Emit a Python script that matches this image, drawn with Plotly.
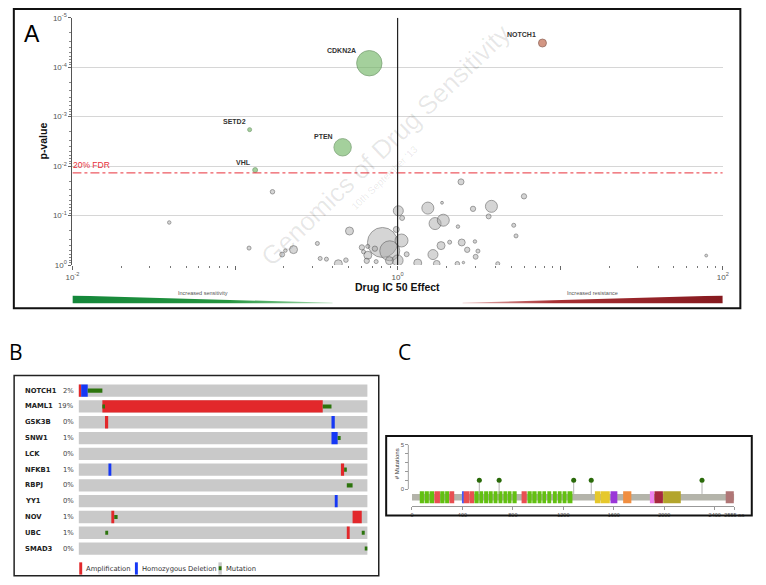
import math
import plotly.graph_objects as go

# ---------------- DATA ----------------
# Panel A: drug IC50 effect vs p-value (bubble size = number of mutant lines)
gray_effect = [0.0394, 0.170, 0.506, 0.122, 0.321, 0.229, 0.204, 0.195, 0.334, 0.365,
               0.432, 0.481, 0.603, 0.617, 0.655, 0.725, 0.646, 0.656, 0.738, 0.807,
               0.895, 1.057, 1.01, 1.066, 0.982, 1.0, 0.891, 1.137, 1.33, 2.455,
               5.99, 1.535, 1.876, 2.91, 3.776, 3.63, 1.70, 1.91, 2.35, 5.18,
               5.35, 1.85, 2.09, 2.48, 2.99, 2.68, 3.12, 3.02, 1.65, 1.74,
               2.33, 2.54, 4.13, 79.1]
gray_pvalue = [0.138, 0.033, 0.205, 0.454, 0.366, 0.488, 0.511, 0.614, 0.736, 0.760,
               0.942, 0.796, 0.440, 0.540, 0.420, 0.467, 0.822, 0.634, 0.853, 0.350,
               0.515, 0.319, 0.080, 0.112, 0.191, 0.807, 0.815, 0.605, 0.912, 0.0208,
               0.0408, 0.0706, 0.055, 0.073, 0.065, 0.104, 0.145, 0.124, 0.167, 0.157,
               0.258, 0.405, 0.345, 0.350, 0.334, 0.492, 0.522, 0.681, 0.614, 0.942,
               0.942, 0.891, 0.942, 0.643]
gray_nmut = [3, 5, 16, 4, 4, 16, 3, 6, 4, 4,
             16, 5, 7, 4, 4, 7, 7, 16, 4, 225,
             100, 42, 25, 6, 9, 30, 16, 6, 16, 9,
             7, 36, 2, 7, 36, 6, 36, 36, 3, 4,
             4, 16, 4, 12, 3, 7, 4, 6, 25, 11,
             5, 1.5, 4, 2]

hit_genes = ["CDKN2A", "SETD2", "PTEN", "VHL", "NOTCH1"]
hit_effect = [0.670, 0.123, 0.459, 0.133, 7.78]
hit_pvalue = [8.3e-5, 1.83e-3, 4.16e-3, 0.0120, 3.24e-5]
hit_nmut = [161, 4, 76, 6, 16]
hit_direction = ["sensitive", "sensitive", "sensitive", "sensitive", "resistant"]

fdr_pvalue = 0.0137
x_tick_labels = ["10<sup>-2</sup>", "", "10<sup>0</sup>", "", "10<sup>2</sup>"]
y_tick_labels = ["10<sup>-5</sup>", "10<sup>-4</sup>", "10<sup>-3</sup>",
                 "10<sup>-2</sup>", "10<sup>-1</sup>", "10<sup>0</sup>"]

# Panel B: oncoprint (sample positions, 300 samples)
onco_genes = ["NOTCH1", "MAML1", "GSK3B", "SNW1", "LCK", "NFKB1",
              "RBPJ", "YY1", "NOV", "UBC", "SMAD3"]
onco_pct = ["2%", "19%", "0%", "1%", "0%", "1%", "0%", "0%", "1%", "1%", "0%"]
n_samples = 300
amp_gene = ["NOTCH1", "MAML1", "GSK3B", "NFKB1", "NOV", "NOV", "UBC"]
amp_start = [0, 24.7, 27.4, 272.3, 34, 284.4, 278.4]
amp_end = [2.7, 253.4, 30.7, 275.6, 37, 293.9, 281.4]
del_gene = ["NOTCH1", "GSK3B", "SNW1", "NFKB1", "YY1"]
del_start = [2.7, 262.5, 262.5, 31, 265.9]
del_end = [9.5, 265.9, 268.9, 34, 268.9]
mut_gene = ["NOTCH1", "MAML1", "MAML1", "SNW1", "NFKB1", "RBPJ", "NOV", "UBC", "UBC", "SMAD3"]
mut_start = [9.5, 24.7, 253.4, 268.9, 275.6, 278.4, 37, 27.7, 293.9, 297]
mut_end = [24.7, 27.4, 262.5, 272, 278.4, 284.4, 40.5, 30.7, 297, 300]

# Panel C: NOTCH1 protein (2555 aa), domains and mutations
protein_length = 2555
domain_type = ["EGF", "EGF", "EGF", "EGF_CA", "EGF", "EGF", "EGF_CA", "SP",
               "EGF_CA", "EGF_CA",
               "EGF", "EGF", "EGF", "EGF", "EGF", "EGF", "EGF", "EGF", "EGF",
               "EGF_CA",
               "EGF", "EGF", "EGF", "EGF", "EGF", "EGF", "EGF", "EGF", "EGF",
               "LNR", "LNR", "HD", "RAM", "NLS", "ANK", "ANK2", "TAD"]
domain_start = [62, 100, 139, 178, 224, 263, 297, 397,
                410, 456,
                495, 534, 572, 608, 647, 686, 725, 758, 797,
                869,
                916, 954, 996, 1034, 1073, 1117, 1156, 1194, 1233,
                1450, 1496, 1574, 1674, 1886, 1922, 1991, 2487]
domain_end = [95, 134, 175, 222, 258, 294, 335, 407,
              454, 492,
              529, 565, 603, 640, 678, 717, 753, 789, 830,
              910,
              949, 988, 1027, 1063, 1104, 1148, 1186, 1225, 1272,
              1494, 1568, 1628, 1739, 1919, 1989, 2131, 2551]
mutation_pos = [534, 691, 1282, 1421, 2299]
mutation_count = [1, 1, 1, 1, 1]
c_tick_vals = [0, 400, 800, 1200, 1600, 2000, 2400, 2555]
c_tick_text = ["0", "400", "800", "1200", "1600", "2000", "2400", "2555 aa"]

# ---------------- STYLE / LAYOUT HELPERS ----------------
W, H = 766, 585
def px(x):
    return x / W
def py(y):
    return 1 - y / H

FONT = "Liberation Sans, Arial, sans-serif"
VFONT = "DejaVu Sans, Verdana, sans-serif"
domain_colors = {"EGF": "#62c011", "EGF_CA": "#e84f52", "SP": "#3d5cff",
                 "LNR": "#e6c82c", "HD": "#9a37d8", "RAM": "#f08e40",
                 "NLS": "#ee84ee", "ANK": "#a6283f", "ANK2": "#b3a52d",
                 "TAD": "#b07676"}
dir_fill = {"sensitive": "rgba(112,182,100,0.9)", "resistant": "rgba(190,98,70,0.95)"}
dir_line = {"sensitive": "#4a7d43", "resistant": "#6a3020"}
label_shift = {"CDKN2A": (-11, 13), "SETD2": (-1.5, 8), "PTEN": (-8, 11),
               "VHL": (-2, 8), "NOTCH1": (-4, 9)}

fig = go.Figure()

# ---- Panel A ----
order = sorted(range(len(gray_nmut)), key=lambda i: -gray_nmut[i])
fig.add_trace(go.Scatter(
    x=[gray_effect[i] for i in order], y=[gray_pvalue[i] for i in order],
    mode="markers", xaxis="x", yaxis="y", hoverinfo="skip",
    marker=dict(size=[gray_nmut[i] for i in order], sizemode="area", sizeref=0.5,
                color="rgba(165,165,165,0.65)", line=dict(color="#555555", width=0.8))))
fig.add_trace(go.Scatter(
    x=hit_effect, y=hit_pvalue, mode="markers", xaxis="x", yaxis="y", hoverinfo="skip",
    marker=dict(size=hit_nmut, sizemode="area", sizeref=0.5,
                color=[dir_fill[d] for d in hit_direction],
                line=dict(color=[dir_line[d] for d in hit_direction], width=0.8))))
fig.add_trace(go.Scatter(x=[0.01, 100], y=[fdr_pvalue, fdr_pvalue], mode="lines",
                         xaxis="x", yaxis="y", hoverinfo="skip",
                         line=dict(color="#e8303a", width=1, dash="dashdot")))
fig.add_trace(go.Scatter(x=[1, 1], y=[1, 1e-5], mode="lines", xaxis="x", yaxis="y",
                         hoverinfo="skip", line=dict(color="#222222", width=1.2)))

# direction wedges (decorative) on a helper axis spanning the same log-effect range
fig.add_trace(go.Scatter(x=[-2, -0.4, -0.4, -2, -2], y=[1, 0.1, 0, 0, 1], mode="lines",
                         fill="toself", xaxis="x4", yaxis="y4", hoverinfo="skip",
                         line=dict(width=0),
                         fillgradient=dict(type="horizontal",
                                           colorscale=[[0, "#14873a"], [0.6, "#25953f"],
                                                       [1, "#a8dcb0"]])))
fig.add_trace(go.Scatter(x=[0.4, 2, 2, 0.4, 0.4], y=[0, 0, 1, 0.1, 0], mode="lines",
                         fill="toself", xaxis="x4", yaxis="y4", hoverinfo="skip",
                         line=dict(width=0),
                         fillgradient=dict(type="horizontal",
                                           colorscale=[[0, "#e7b9b9"], [0.35, "#a83034"],
                                                       [1, "#861a1f"]])))

# ---- Panel B ----
yidx = {g: i for i, g in enumerate(onco_genes)}
fig.add_trace(go.Bar(y=list(range(len(onco_genes))), x=[n_samples] * len(onco_genes),
                     base=[0] * len(onco_genes), orientation="h", width=0.78,
                     marker=dict(color="#c9c9c9", line=dict(width=0)),
                     xaxis="x2", yaxis="y2", hoverinfo="skip"))
fig.add_trace(go.Bar(y=[yidx[g] for g in amp_gene],
                     x=[e - s for s, e in zip(amp_start, amp_end)], base=amp_start,
                     orientation="h", width=0.78, marker=dict(color="#e2282b", line=dict(width=0)),
                     xaxis="x2", yaxis="y2", hoverinfo="skip"))
fig.add_trace(go.Bar(y=[yidx[g] for g in del_gene],
                     x=[e - s for s, e in zip(del_start, del_end)], base=del_start,
                     orientation="h", width=0.78, marker=dict(color="#1638f5", line=dict(width=0)),
                     xaxis="x2", yaxis="y2", hoverinfo="skip"))
fig.add_trace(go.Bar(y=[yidx[g] for g in mut_gene],
                     x=[e - s for s, e in zip(mut_start, mut_end)], base=mut_start,
                     orientation="h", width=0.26, marker=dict(color="#2c740d", line=dict(width=0)),
                     xaxis="x2", yaxis="y2", hoverinfo="skip"))

# ---- Panel C ----
fig.add_trace(go.Bar(y=[-0.93], x=[protein_length], base=[0], orientation="h", width=0.74,
                     marker=dict(color="#b4b4aa", line=dict(width=0)),
                     xaxis="x3", yaxis="y3", hoverinfo="skip"))
fig.add_trace(go.Bar(y=[-0.93] * len(domain_start),
                     x=[e - s for s, e in zip(domain_start, domain_end)], base=domain_start,
                     orientation="h", width=1.34,
                     marker=dict(color=[domain_colors[t] for t in domain_type], line=dict(width=0)),
                     xaxis="x3", yaxis="y3", hoverinfo="skip"))
stem_x, stem_y = [], []
for p, c in zip(mutation_pos, mutation_count):
    stem_x += [p, p, None]
    stem_y += [-0.56, c, None]
fig.add_trace(go.Scatter(x=stem_x, y=stem_y, mode="lines", xaxis="x3", yaxis="y3",
                         line=dict(color="#a0a0a0", width=0.8), hoverinfo="skip"))
fig.add_trace(go.Scatter(x=mutation_pos, y=mutation_count, mode="markers", xaxis="x3",
                         yaxis="y3", marker=dict(size=5, color="#2a6a0a"), hoverinfo="skip"))

# ---------------- ANNOTATIONS ----------------
def note(text, x, y, size, color="#000", family=FONT, angle=0, xa="center", ya="middle",
         xref="paper", yref="paper", **kw):
    d = dict(text=text, x=x, y=y, xref=xref, yref=yref, xanchor=xa, yanchor=ya,
             textangle=angle, showarrow=False,
             font=dict(family=family, size=size, color=color))
    d.update(kw)
    return d

ann = []
ann.append(note("Genomics of Drug Sensitivity", px(388), py(142), 26,
                "rgba(0,0,0,0.095)", angle=-44))
ann.append(note("10th September '13", px(387), py(175), 10, "rgba(0,0,0,0.095)", angle=-44))
for g, xv, pv in zip(hit_genes, hit_effect, hit_pvalue):
    dx, dy = label_shift[g]
    ann.append(note("<b>" + g + "</b>", math.log10(xv), math.log10(pv), 7, "#333333",
                    xa="right", ya="middle", xref="x", yref="y", xshift=dx, yshift=dy))
ann.append(note("20% FDR", -2, math.log10(fdr_pvalue), 8.5, "#e8303a", xa="left",
                ya="bottom", xref="x", yref="y", yshift=1, xshift=-1))
ann.append(note("<b>p-value</b>", px(37), py(138), 10.5, "#111", angle=-90))
ann.append(note("<b>Drug IC 50 Effect</b>", px(400), py(286), 10.5, "#111"))
ann.append(note("Increased sensitivity", px(201), py(292.5), 5.5, "#555"))
ann.append(note("Increased resistance", px(600), py(292.5), 5.5, "#555"))
ann.append(note("A", px(26), py(29), 23))
ann.append(note("B", px(9), py(353), 21, family="Open Sans, " + FONT))
ann.append(note("C", px(407.5), py(353), 21, family="Open Sans, " + FONT))
for i, (g, pc) in enumerate(zip(onco_genes, onco_pct)):
    ann.append(note("<b>" + g + "</b>", px(16), i, 6.8, "#222", family=VFONT,
                    xa="left", yref="y2"))
    ann.append(note(pc, px(71), i, 6.8, "#444", family=VFONT, xa="right", yref="y2"))
for t, xx in [("Amplification", 79), ("Homozygous Deletion", 136), ("Mutation", 222)]:
    ann.append(note(t, px(xx), py(573.5), 6.8, "#333", family=VFONT, xa="left"))
ann.append(note("# Mutations", px(399.5), py(467), 6, "#333", angle=-90))

# ---------------- SHAPES ----------------
shapes = [
    dict(type="rect", xref="paper", yref="paper", x0=px(7), x1=px(751), y0=py(308), y1=py(3),
         line=dict(color="#111", width=2)),
    dict(type="rect", xref="paper", yref="paper", x0=px(7.3), x1=px(380.7), y0=py(580.7),
         y1=py(376.7), line=dict(color="#222", width=1.5)),
    dict(type="rect", xref="paper", yref="paper", x0=px(388.3), x1=px(762.7), y0=py(519.3),
         y1=py(438.3), line=dict(color="#111", width=2)),
    dict(type="line", xref="paper", yref="y3", x0=px(411), x1=px(411), y0=0, y1=5,
         line=dict(color="#888", width=0.8)),
    dict(type="rect", xref="paper", yref="paper", x0=px(74), x1=px(77), y0=py(579.5),
         y1=py(567), line=dict(width=0), fillcolor="#e2282b"),
    dict(type="rect", xref="paper", yref="paper", x0=px(131), x1=px(134), y0=py(579.5),
         y1=py(567), line=dict(width=0), fillcolor="#1638f5"),
    dict(type="rect", xref="paper", yref="paper", x0=px(216.5), x1=px(220), y0=py(579.5),
         y1=py(567), line=dict(width=0), fillcolor="#c9c9c9"),
    dict(type="rect", xref="paper", yref="paper", x0=px(216.8), x1=px(219.7), y0=py(575),
         y1=py(571), line=dict(width=0), fillcolor="#2c740d"),
]

minor_vals = [m * 10 ** e for e in range(-2, 2) for m in range(2, 10)]
minor_y = [m * 10 ** e for e in range(-5, 0) for m in range(2, 10)]

fig.update_layout(
    width=W, height=H, margin=dict(l=0, r=0, t=0, b=0, pad=0),
    paper_bgcolor="white", plot_bgcolor="white", showlegend=False, barmode="overlay",
    font=dict(family=FONT),
    xaxis=dict(type="log", range=[-2, 2], domain=[px(67), px(733)], anchor="y",
               showgrid=False, zeroline=False, showline=False,
               tickmode="array", tickvals=[0.01, 0.1, 1, 10, 100], ticktext=x_tick_labels,
               ticks="outside", ticklen=4, tickcolor="#666", tickwidth=1,
               tickfont=dict(size=8, color="#555"),
               minor=dict(tickmode="array", tickvals=minor_vals, ticks="outside",
                          ticklen=2, tickcolor="#777", showgrid=False)),
    yaxis=dict(type="log", range=[0, -5], domain=[py(264), py(12)], anchor="x",
               showgrid=True, gridcolor="#d6d6d6", gridwidth=1, zeroline=False,
               showline=True, linecolor="#555", linewidth=1,
               tickmode="array", tickvals=[1e-5, 1e-4, 1e-3, 1e-2, 1e-1, 1],
               ticktext=y_tick_labels, ticks="outside", ticklen=3, tickcolor="#666",
               tickfont=dict(size=8, color="#555"),
               minor=dict(tickmode="array", tickvals=minor_y, ticks="outside",
                          ticklen=2, tickcolor="#888", showgrid=False)),
    xaxis2=dict(domain=[px(73.3), px(369.3)], range=[0, n_samples], anchor="y2", visible=False),
    yaxis2=dict(domain=[py(561), py(384)], range=[10.5, -0.5], anchor="x2", visible=False),
    xaxis3=dict(domain=[px(414.7), px(744.8)], range=[0, protein_length], anchor="y3",
                showgrid=False, zeroline=False, showline=True, linecolor="#999", linewidth=0.8,
                tickmode="array", tickvals=c_tick_vals, ticktext=c_tick_text, tickangle=0,
                ticks="outside", ticklen=3, tickcolor="#999",
                tickfont=dict(size=5.5, color="#555")),
    yaxis3=dict(domain=[py(510), py(440)], range=[-1.97, 5.81], anchor="free",
                position=px(411), showgrid=False, zeroline=False, showline=False,
                tickmode="array", tickvals=[0, 1, 2, 3, 4, 5],
                ticktext=["0", "", "", "", "", "5"], ticks="outside", ticklen=3,
                tickcolor="#999", tickfont=dict(size=6, color="#555")),
    xaxis4=dict(domain=[px(67), px(733)], range=[-2, 2], anchor="y4", visible=False),
    yaxis4=dict(domain=[py(303.3), py(295)], range=[0, 1], anchor="x4", visible=False),
    annotations=ann, shapes=shapes,
)

fig.write_html(
    "out.html",
    config={"displayModeBar": False, "responsive": False},
    post_script=("document.documentElement.style.margin='0';"
                 "document.documentElement.style.padding='0';"
                 "document.documentElement.style.overflow='hidden';"
                 "document.body.style.margin='0';document.body.style.padding='0';"
                 "document.body.style.overflow='hidden';"
                 "var d=document.getElementById('{plot_id}');"
                 "d.style.position='fixed';d.style.left='0px';d.style.top='0px';"),
)
